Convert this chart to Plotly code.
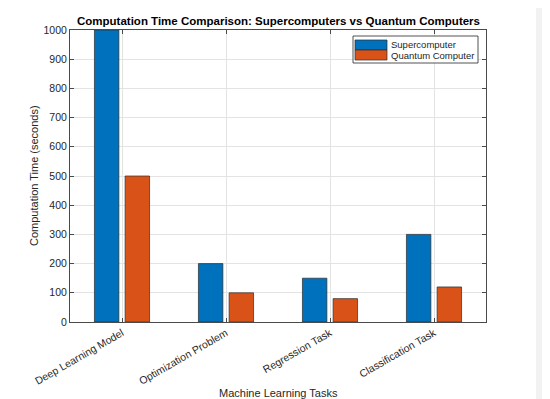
import plotly.graph_objects as go

categories = ["Deep Learning Model", "Optimization Problem", "Regression Task", "Classification Task"]
supercomputer = [1000, 200, 150, 300]
quantum = [500, 100, 80, 120]
series_names = ["Supercomputer", "Quantum Computer"]
y_ticks = [0, 100, 200, 300, 400, 500, 600, 700, 800, 900, 1000]

BLUE = "#0072BD"
ORANGE = "#D95319"
FONT = "Liberation Sans, Arial, Helvetica, sans-serif"
TXT = "#262626"

fig = go.Figure()
fig.add_trace(go.Bar(
    x=categories, y=supercomputer, name=series_names[0],
    width=0.235, offset=-0.265,
    marker=dict(color=BLUE, line=dict(color="#2b2b2b", width=0.7)),
    showlegend=False,
))
fig.add_trace(go.Bar(
    x=categories, y=quantum, name=series_names[1],
    width=0.235, offset=0.03,
    marker=dict(color=ORANGE, line=dict(color="#2b2b2b", width=0.7)),
    showlegend=False,
))

# page has an 8px body margin; target plot area in screenshot px: x 70..486, y 30..322
OFF = 8
W, H = 550 - OFF, 399 - OFF
L, R, T, B = 70, 486, 30, 322
pw, ph = R - L, B - T
def px(x):
    return (x - L) / pw
def py(y):
    return (B - y) / ph

shapes = []
# right gray strip (window chrome)
shapes.append(dict(type="rect", xref="paper", yref="paper", x0=px(536), x1=px(551), y0=py(400), y1=py(OFF),
                   fillcolor="#f2f2f2", line=dict(width=0), layer="above"))
# legend box
shapes.append(dict(type="rect", xref="paper", yref="paper", x0=px(353), x1=px(478), y0=py(63), y1=py(36),
                   fillcolor="white", line=dict(color="#262626", width=0.8), layer="above"))
# legend swatches
shapes.append(dict(type="rect", xref="paper", yref="paper", x0=px(355), x1=px(387), y0=py(50), y1=py(40),
                   fillcolor=BLUE, line=dict(color="#2b2b2b", width=0.7), layer="above"))
shapes.append(dict(type="rect", xref="paper", yref="paper", x0=px(355), x1=px(387), y0=py(60), y1=py(50),
                   fillcolor=ORANGE, line=dict(color="#2b2b2b", width=0.7), layer="above"))

annotations = [
    dict(text=series_names[0], xref="paper", yref="paper", x=px(389), y=py(45), xanchor="left", yanchor="middle",
         showarrow=False, font=dict(family=FONT, size=9.5, color=TXT)),
    dict(text=series_names[1], xref="paper", yref="paper", x=px(389), y=py(55), xanchor="left", yanchor="middle",
         showarrow=False, font=dict(family=FONT, size=9.5, color=TXT)),
    dict(text="Machine Learning Tasks", xref="paper", yref="paper", x=px(278), y=py(393), xanchor="center",
         yanchor="middle", showarrow=False, font=dict(family=FONT, size=11, color=TXT)),
    dict(text="Computation Time (seconds)", xref="paper", yref="paper", x=px(34), y=0.5, xanchor="center",
         yanchor="middle", textangle=-90, showarrow=False, font=dict(family=FONT, size=11, color=TXT)),
    dict(text="<b>Computation Time Comparison: Supercomputers vs Quantum Computers</b>", xref="paper",
         yref="paper", x=0.5, y=py(21), xanchor="center", yanchor="middle", showarrow=False,
         font=dict(family=FONT, size=11.5, color="#000000")),
]

fig.update_layout(
    width=W, height=H,
    margin=dict(l=L - OFF, r=(W + OFF) - R, t=T - OFF, b=(H + OFF) - B, autoexpand=False),
    paper_bgcolor="white", plot_bgcolor="white",
    barmode="overlay",
    font=dict(family=FONT, size=10, color=TXT),
    shapes=shapes, annotations=annotations,
    showlegend=False,
)
fig.update_xaxes(
    type="category", range=[-0.5, 3.5],
    tickangle=-30, tickfont=dict(family=FONT, size=10.5, color=TXT),
    showgrid=True, gridcolor="#e3e3e3", gridwidth=1,
    showline=True, linecolor="#4a4a4a", linewidth=1, mirror="ticks",
    ticks="inside", ticklen=4, tickcolor="#4a4a4a",
    automargin=False,
)
fig.update_yaxes(
    range=[0, 1000], tickvals=y_ticks,
    tickfont=dict(family=FONT, size=10.5, color=TXT),
    showgrid=True, gridcolor="#e3e3e3", gridwidth=1,
    showline=True, linecolor="#4a4a4a", linewidth=1, mirror="ticks",
    ticks="inside", ticklen=4, tickcolor="#4a4a4a",
    zeroline=False, automargin=False,
)

fig.write_html("out.html")
